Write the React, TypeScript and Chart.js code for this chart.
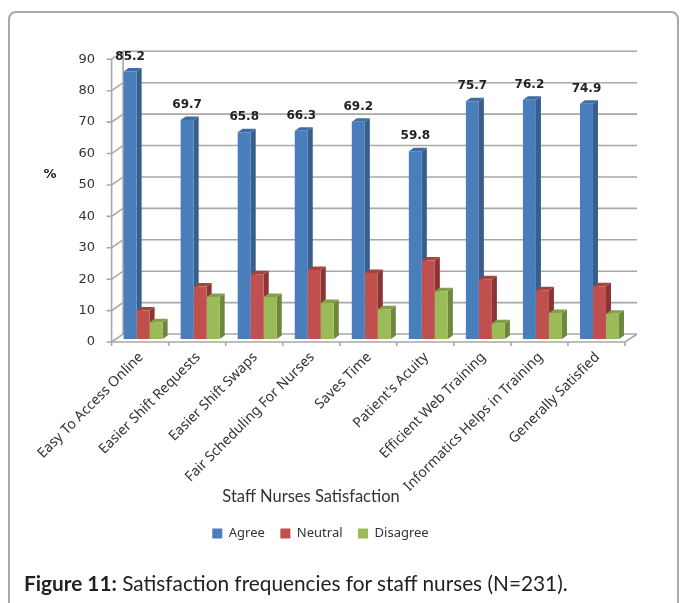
import React, { useEffect, useRef } from "react";
import { Chart, registerables } from "chart.js";

Chart.register(...registerables);

const categories = [
  "Easy To Access Online",
  "Easier Shift Requests",
  "Easier Shift Swaps",
  "Fair Scheduling For Nurses",
  "Saves Time",
  "Patient's Acuity",
  "Efficient Web Training",
  "Informatics Helps in Training",
  "Generally Satisfied",
];
const agree = [85.2, 69.7, 65.8, 66.3, 69.2, 59.8, 75.7, 76.2, 74.9];
const neutral = [9.1, 16.7, 20.6, 22, 21, 25, 19, 15.5, 16.8];
const disagree = [5.3, 13.4, 13.4, 11.5, 9.5, 15.2, 5, 8.3, 8];
const sideColors = ["#375e8c", "#8a3533", "#6d873b"];
const topColors = ["#3f6ca3", "#a5433f", "#84a04a"];

const tickFont = '"DejaVu Sans"';
const textFont = '"Noto Sans"';
const GRID = "#a8a8a8";

const wallPlugin = {
  id: "wall3d",
  beforeDatasetsDraw(chart: any) {
    const { ctx, scales } = chart;
    const y = scales.y;
    const { left, right } = chart.chartArea;
    const fl = left - 3, fr = right - 3, bl = left + 8.5, br = right + 9;
    ctx.save();
    ctx.strokeStyle = GRID;
    ctx.lineWidth = 1.6;
    y.ticks.forEach((t: any) => {
      const p = y.getPixelForValue(t.value);
      ctx.beginPath();
      ctx.moveTo(fl - 5, p + 3);
      ctx.lineTo(fl, p + 3);
      ctx.lineTo(bl, p - 5);
      ctx.lineTo(br, p - 5);
      ctx.stroke();
    });
    const p0 = y.getPixelForValue(0);
    const p90 = y.getPixelForValue(90);
    ctx.beginPath();
    ctx.moveTo(fl, p90 + 3);
    ctx.lineTo(fl, p0 + 3);
    ctx.lineTo(fr, p0 + 3);
    ctx.lineTo(br, p0 - 5);
    ctx.moveTo(bl, p90 - 5);
    ctx.lineTo(bl, p0 - 5);
    ctx.stroke();
    const step = (fr - fl) / categories.length;
    categories.forEach((_, i) => {
      const tx = fl + step * (i + 1);
      ctx.beginPath();
      ctx.moveTo(tx, p0 + 3);
      ctx.lineTo(tx, p0 + 7);
      ctx.stroke();
    });
    ctx.beginPath();
    ctx.moveTo(fl, p0 + 3);
    ctx.lineTo(fl, p0 + 7);
    ctx.stroke();

    const dx = 5, dy = 3.5;
    chart.data.datasets.forEach((_: any, di: number) => {
      const meta = chart.getDatasetMeta(di);
      meta.data.forEach((b: any) => {
        const l = b.x - b.width / 2, r = b.x + b.width / 2;
        ctx.fillStyle = sideColors[di];
        ctx.beginPath();
        ctx.moveTo(r, b.y);
        ctx.lineTo(r + dx, b.y - dy);
        ctx.lineTo(r + dx, b.base - dy);
        ctx.lineTo(r, b.base);
        ctx.closePath();
        ctx.fill();
        ctx.fillStyle = topColors[di];
        ctx.beginPath();
        ctx.moveTo(l, b.y);
        ctx.lineTo(l + dx, b.y - dy);
        ctx.lineTo(r + dx, b.y - dy);
        ctx.lineTo(r, b.y);
        ctx.closePath();
        ctx.fill();
      });
    });
    ctx.restore();
  },
  afterDraw(chart: any) {
    const { ctx } = chart;
    ctx.save();
    ctx.fillStyle = "#222";
    ctx.textAlign = "center";
    ctx.textBaseline = "middle";
    ctx.font = `bold 12px ${tickFont}`;
    const meta = chart.getDatasetMeta(0);
    meta.data.forEach((b: any, i: number) => {
      ctx.fillText(String(agree[i]), b.x, b.y - 15);
    });
    ctx.font = `bold 13px ${tickFont}`;
    ctx.fillText("%", 50, 175);
    ctx.font = "16.5px Lato";
    ctx.fillStyle = "#333";
    ctx.fillText("Staff Nurses Satisfaction", 311, 497);
    ctx.restore();
  },
};

export default function App() {
  const ref = useRef<HTMLCanvasElement | null>(null);
  useEffect(() => {
    const chart = new Chart(ref.current as HTMLCanvasElement, {
      type: "bar",
      data: {
        labels: categories,
        datasets: [
          { label: "Agree", data: agree, backgroundColor: "#4a7ebb" },
          { label: "Neutral", data: neutral, backgroundColor: "#c0504d" },
          { label: "Disagree", data: disagree, backgroundColor: "#9bbb59" },
        ],
      },
      plugins: [wallPlugin],
      options: {
        responsive: false,
        animation: false,
        layout: { padding: { top: 56.3, right: 41, bottom: 53, left: 13 } },
        datasets: { bar: { barPercentage: 1, categoryPercentage: 0.684 } },
        scales: {
          x: {
            grid: { display: false },
            border: { display: false },
            afterFit(s: any) { s.height = 172.5; },
            ticks: {
              autoSkip: false,
              maxRotation: 45,
              minRotation: 45,
              padding: 2,
              labelOffset: -2,
              color: "#333",
              font: { family: textFont, size: 14 },
            },
          },
          y: {
            min: 0,
            max: 90,
            grid: { display: false },
            border: { display: false },
            afterFit(s: any) { s.width = 101.6; },
            ticks: {
              stepSize: 10,
              padding: 11.6,
              labelOffset: 3,
              color: "#333",
              font: { family: tickFont, size: 13 },
            },
          },
        },
        plugins: {
          tooltip: { enabled: false },
          legend: {
            position: "bottom",
            labels: {
              boxWidth: 10,
              boxHeight: 10,
              padding: 15.5,
              color: "#333",
              font: { family: textFont, size: 13 },
            },
          },
        },
      },
    } as any);
    return () => chart.destroy();
  }, []);
  return (
    <div style={{ position: "absolute", left: 0, top: 0, width: 682, height: 603, overflow: "hidden", background: "#fff" }}>
      <div style={{ position: "absolute", left: 8, top: 11, width: 667, height: 700, border: "2px solid #a9a9a9", borderRadius: 8, boxSizing: "content-box" }} />
      <canvas ref={ref} width={669} height={603} style={{ position: "absolute", left: 0, top: 0 }} />
      <div style={{ position: "absolute", left: 24, top: 570, fontFamily: "Lato", fontSize: 20.8, color: "#222", whiteSpace: "nowrap" }}>
        <b>Figure 11:</b> Satisfaction frequencies for staff nurses (N=231).
      </div>
    </div>
  );
}
